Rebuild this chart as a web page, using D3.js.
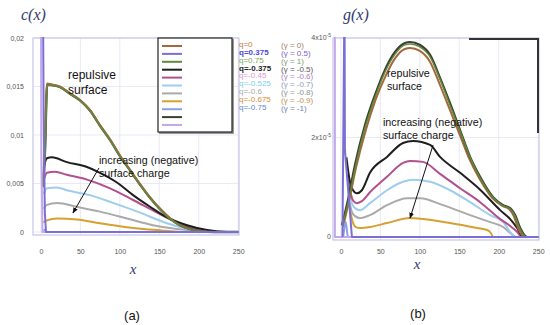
<!DOCTYPE html>
<html lang="en">
<head>
  <meta charset="utf-8">
  <title>c(x) and g(x)</title>
  <script src="https://d3js.org/d3.v7.min.js"></script>
  <style>
    body { margin: 0; background: #fff; }
    svg { display: block; }
    .tick text { font-family: "Liberation Sans", Arial, sans-serif; font-size: 7px; fill: #555; }
    .title { font-family: "Liberation Serif", "DejaVu Serif", serif; font-style: italic; fill: #2e3a6e; }
    .note { font-family: "Liberation Sans", Arial, sans-serif; fill: #111; }
    .panel { font-family: "Liberation Sans", Arial, sans-serif; font-size: 13px; fill: #111; }
    .leg { font-family: "Liberation Sans", Arial, sans-serif; font-size: 8px; }
  </style>
</head>
<body>
<div id="chart"></div>
<script>
  // ticks
  var xTicks = [0, 50, 100, 150, 200, 250];
  var cTicks = [0, 0.005, 0.01, 0.015, 0.02];
  var cTickLabels = ["0", "0,005", "0,01", "0,015", "0,02"];
  var gTicks = [0, 2, 4];            // in units of 1e-5
  var gTickLabels = ["0", "2x10", "4x10"];

  // legend
  var qLabels = ["q=0", "q=0.375", "q=0.75", "q=-0.375", "q=-0.45", "q=-0.525", "q=-0.6", "q=-0.675", "q=-0.75"];
  var gammaLabels = ["(\u03b3 = 0)", "(\u03b3 = 0.5)", "(\u03b3 = 1)", "(\u03b3 = -0.5)", "(\u03b3 = -0.6)",
                     "(\u03b3 = -0.7)", "(\u03b3 = -0.8)", "(\u03b3 = -0.9)", "(\u03b3 = -1)"];
  var seriesColors = ["#a5683c", "#7a6fd6", "#5f8a3c", "#1e1e1e", "#b2508e", "#9fcdee",
                      "#aaaaaa", "#d6a032", "#8e9ee6", "#3c4030", "#c4a8ec"];
  var qColors = ["#c07a3a", "#4a4ad8", "#78a855", "#222", "#e890e0", "#7ad0ec", "#a8a8a8", "#e08a30", "#5a88e0"];
  var gammaColors = ["#a08060", "#8060c0", "#80a070", "#555", "#b080c0", "#8aa0b8", "#909090", "#c09050", "#7080c0"];

  // c(x) series  [x, c]
  var cQ0 = [[2.5,0.0048],[5,0.0085],[7.6,0.0153],[14,0.0152],[24,0.015],[37,0.0143],[49.5,0.0136],[62,0.0126],[75,0.011],[88,0.0095],[100,0.0079],[113,0.0064],[126,0.0049],[138,0.0036],[151,0.0024],[164,0.0014],[176,0.0007],[189,0.0003],[202,0.0001],[221,0],[250,0]];
  var cQ075 = [[3,0.0046],[5.5,0.0083],[8.2,0.0151],[14,0.0151],[24,0.0149],[37,0.0142],[50,0.0135],[62,0.0125],[75,0.0109],[88,0.0094],[100,0.0078],[113,0.0063],[126,0.0048],[138,0.0035],[151,0.0023],[164,0.0013],[176,0.0007],[189,0.0003],[202,0.0001],[220,0],[250,0]];
  var cDark = [[2.8,0.0047],[5.2,0.0084],[7.9,0.0152],[14,0.01515],[24,0.01495],[37,0.01425],[50,0.01355],[62,0.01255],[75,0.01095],[88,0.00945],[100,0.00785],[113,0.00635],[126,0.00485],[138,0.00355],[151,0.00235],[164,0.00135],[176,0.0007],[189,0.0003],[202,0.0001],[220,0],[250,0]];
  var cQm0375 = [[3.5,0.0066],[7.6,0.0076],[14,0.0077],[33,0.0072],[58.4,0.0067],[74.9,0.0061],[96.4,0.0051],[116.8,0.0038],[138.3,0.0026],[159.9,0.0015],[185.3,0.0007],[210.7,0.0002],[236,0],[250,0]];
  var cQm045 = [[3.5,0.0053],[7.6,0.0061],[17.8,0.0062],[33,0.0059],[58.4,0.0054],[87.6,0.0045],[116.8,0.0033],[147.2,0.002],[180.2,0.0007],[218.3,0],[250,0]];
  var cQm0525 = [[3.5,0.0039],[7.6,0.0045],[20.3,0.0046],[33,0.0043],[62.2,0.0038],[91.4,0.003],[125.6,0.002],[159.9,0.0009],[201.8,0.0001],[233.5,0],[250,0]];
  var cQm06 = [[3.5,0.0024],[7.6,0.0028],[20.3,0.003],[45.7,0.0026],[74.9,0.0021],[109.1,0.0014],[142.1,0.0007],[185.3,0.0002],[218.3,0],[250,0]];
  var cQm0675 = [[3,0.001],[7.6,0.0012],[20.3,0.0014],[45.7,0.0013],[74.9,0.0009],[109.1,0.0005],[147.2,0.0002],[185.3,0],[250,0]];
  var cQ0375 = [[2.5,0.026],[3.5,0.012],[5,0.002],[6.5,0],[250,0]];
  var cQm075 = [[4,0.0003],[6,0],[250,0]];
  var cLav = [[0,0.026],[0.6,0.008],[2,0],[250,0]];

  // g(x) series  [x, g / 1e-5]
  var gQ0 = [[2.5,0.2],[10,0.7],[19,1.38],[32,2.17],[44,2.76],[57,3.25],[69,3.6],[81,3.78],[88,3.8],[100,3.74],[113,3.52],[125,3.08],[137,2.6],[150,2.08],[163,1.56],[176,1.16],[192,0.78],[205,0.62],[213,0.56],[219,0.42],[225,0.16],[233,0],[250,0]];
  var gQ075 = [[1.8,0.22],[9.5,0.72],[18.5,1.42],[31,2.22],[43.5,2.82],[56,3.32],[69,3.68],[81,3.86],[88,3.88],[100,3.82],[113,3.62],[125.6,3.17],[138,2.66],[151,2.13],[163.7,1.6],[176,1.2],[192.5,0.8],[205,0.63],[214,0.57],[220.5,0.43],[226.8,0.17],[235,0],[250,0]];
  var gDark = [[1.3,0.24],[8.9,0.74],[17.8,1.45],[30.5,2.25],[43.1,2.85],[55.8,3.36],[68.5,3.72],[81.2,3.9],[87.6,3.92],[100.3,3.86],[113,3.66],[125.6,3.2],[138.3,2.69],[151,2.15],[163.7,1.61],[176.4,1.21],[192.9,0.8],[205.6,0.64],[214.5,0.58],[220.8,0.44],[227.2,0.18],[236,0],[250,0]];
  var gQm0375 = [[7,1.6],[11,1.15],[15,0.95],[20.3,0.88],[26.6,0.94],[36.8,1.29],[58.4,1.61],[78.7,1.89],[91.4,1.93],[113,1.85],[125.6,1.61],[151,1.29],[176.4,0.95],[201.8,0.54],[214.5,0.36],[223.4,0.18],[231,0],[250,0]];
  var gQm045 = [[8,1.25],[12,0.9],[16,0.72],[20.3,0.68],[26.6,0.72],[36.8,0.9],[58.4,1.21],[78.7,1.49],[87.6,1.53],[104.1,1.51],[125.6,1.27],[151,0.98],[176.4,0.7],[201.8,0.36],[214.5,0.22],[223.4,0.1],[229,0],[250,0]];
  var gQm0525 = [[9,1.0],[13,0.72],[17.8,0.58],[24.1,0.54],[36.8,0.68],[58.4,0.94],[78.7,1.11],[91.4,1.15],[113,1.11],[138.3,0.94],[163.7,0.7],[189.1,0.44],[205.6,0.3],[214.5,0.1],[222,0],[250,0]];
  var gQm06 = [[10,0.8],[14,0.5],[18,0.42],[24.1,0.38],[36.8,0.44],[58.4,0.64],[83.8,0.78],[100.3,0.78],[129.4,0.64],[163.7,0.44],[189.1,0.3],[205.6,0.2],[214.5,0.08],[222,0],[250,0]];
  var gQm0675 = [[11,0.6],[15,0.3],[19,0.2],[24.1,0.18],[36.8,0.2],[58.4,0.28],[87.6,0.38],[104.1,0.36],[138.3,0.28],[172.6,0.18],[185.3,0.14],[190,0.08],[193,0],[250,0]];
  var gQ0375 = [[2,0],[4.6,5],[5.1,1.75],[14,0],[250,0]];
  var gQm075 = [[3,0],[6,0.3],[9,0],[250,0]];
  var gLav = [[-7.6,5],[-7.6,0],[250,0]];

  var width = 550, height = 325;
  var svg = d3.select("#chart").append("svg")
      .attr("width", width)
      .attr("height", height);

  var defs = svg.append("defs");
  defs.append("marker")
      .attr("id", "arrow")
      .attr("viewBox", "0 0 10 10")
      .attr("refX", 9).attr("refY", 5)
      .attr("markerWidth", 6).attr("markerHeight", 6)
      .attr("orient", "auto")
    .append("path")
      .attr("d", "M0,1 L10,5 L0,9 Z")
      .attr("fill", "#111");

  function drawPanel(p) {
    var x = d3.scaleLinear().domain([-10, 251]).range([p.left, p.left + 206]);
    var y = d3.scaleLinear().domain(p.yDomain).range([p.yBottom, 38]);
    var g = svg.append("g");

    defs.append("clipPath").attr("id", p.id)
      .append("rect")
        .attr("x", p.left).attr("y", 37)
        .attr("width", 206).attr("height", p.frameBottom - 37);

    // grid
    g.append("g").selectAll("line").data(xTicks).enter().append("line")
      .attr("x1", function(d) { return x(d); }).attr("x2", function(d) { return x(d); })
      .attr("y1", 38).attr("y2", p.frameBottom)
      .attr("stroke", "#e4e3f3").attr("stroke-width", 0.8);
    g.append("g").selectAll("line").data(p.yTicks).enter().append("line")
      .attr("x1", p.left).attr("x2", p.left + 206)
      .attr("y1", function(d) { return y(d); }).attr("y2", function(d) { return y(d); })
      .attr("stroke", "#e4e3f3").attr("stroke-width", 0.8);

    g.append("rect")
      .attr("x", p.left).attr("y", 38)
      .attr("width", 206).attr("height", p.frameBottom - 38)
      .attr("fill", "none").attr("stroke", "#c9c6e6").attr("stroke-width", 1.2);

    // x axis
    var xa = g.append("g")
      .attr("transform", "translate(0,246)")
      .call(d3.axisBottom(x).tickValues(xTicks).tickSize(0).tickFormat(d3.format("d")));
    xa.select(".domain").remove();

    // y axis
    if (p.yLabels) {
      var ya = g.append("g")
        .attr("transform", "translate(" + (p.left - 6) + ",0)")
        .call(d3.axisLeft(y).tickValues(p.yTicks).tickSize(0)
          .tickFormat(function(d, i) { return p.yLabels[i]; }));
      ya.select(".domain").remove();
      ya.selectAll(".tick text").attr("dy", "0.3em");
    }

    var line = d3.line()
      .x(function(d) { return x(d[0]); })
      .y(function(d) { return y(d[1]); })
      .curve(d3.curveMonotoneX);
    var straight = d3.line()
      .x(function(d) { return x(d[0]); })
      .y(function(d) { return y(d[1]); });

    var plot = g.append("g").attr("clip-path", "url(#" + p.id + ")");
    p.series.forEach(function(s) {
      plot.append("path")
        .attr("d", s.spike ? straight(s.pts) : line(s.pts))
        .attr("fill", "none")
        .attr("stroke", seriesColors[s.c])
        .attr("stroke-width", s.w || 2)
        .attr("stroke-linejoin", "round");
    });

    // arrow
    g.append("line")
      .attr("x1", x(p.arrow[0][0])).attr("y1", y(p.arrow[0][1]))
      .attr("x2", x(p.arrow[1][0])).attr("y2", y(p.arrow[1][1]))
      .attr("stroke", "#111").attr("stroke-width", 1)
      .attr("marker-end", "url(#arrow)");

    return { x: x, y: y, g: g };
  }

  var left = drawPanel({
    id: "clipA", left: 33, yBottom: 232, frameBottom: 235,
    yDomain: [0, 0.02], yTicks: cTicks, yLabels: cTickLabels,
    series: [
      { pts: cQm0675, c: 7 }, { pts: cQm06, c: 6 }, { pts: cQm0525, c: 5 },
      { pts: cQm045, c: 4 }, { pts: cQm0375, c: 3 },
      { pts: cDark, c: 9, w: 2.4 }, { pts: cQ0, c: 0, w: 2 }, { pts: cQ075, c: 2, w: 1.4 },
      { pts: cQm075, c: 8 }, { pts: cLav, c: 10, spike: true }, { pts: cQ0375, c: 1, spike: true }
    ],
    arrow: [[73.6, 0.0066], [40.6, 0.00196]]
  });

  var right = drawPanel({
    id: "clipB", left: 333, yBottom: 237, frameBottom: 240,
    yDomain: [0, 4], yTicks: gTicks, yLabels: null,
    series: [
      { pts: gQm0675, c: 7 }, { pts: gQm06, c: 6 }, { pts: gQm0525, c: 5 },
      { pts: gQm045, c: 4 }, { pts: gQm0375, c: 3 },
      { pts: gQ0, c: 0, w: 2 }, { pts: gDark, c: 9, w: 2.2 }, { pts: gQ075, c: 2, w: 1.4 },
      { pts: gQm075, c: 8 }, { pts: gLav, c: 10, spike: true }, { pts: gQ0375, c: 1, spike: true }
    ],
    arrow: [[116.8, 1.85], [87.6, 0.38]]
  });

  // right y tick labels with superscript
  var gl = right.g.append("g").attr("class", "tick");
  gTicks.forEach(function(d, i) {
    var t = gl.append("text")
      .attr("x", 331).attr("y", right.y(d))
      .attr("dy", "0.3em")
      .attr("text-anchor", "end")
      .text(gTickLabels[i]);
    if (i > 0) {
      t.append("tspan").attr("dy", "-0.6em").attr("font-size", "5px").text("-5");
    }
  });

  // partial box in right panel
  svg.append("path")
    .attr("d", "M469,39 L538,39 L538,133")
    .attr("fill", "none").attr("stroke", "#333").attr("stroke-width", 2);

  // legend box
  var lg = svg.append("g");
  lg.append("rect")
    .attr("x", 159).attr("y", 39).attr("width", 75).attr("height", 95)
    .attr("fill", "#999");
  lg.append("rect")
    .attr("x", 158).attr("y", 38).attr("width", 74).attr("height", 94)
    .attr("fill", "#fff").attr("stroke", "#222").attr("stroke-width", 1.2);
  lg.selectAll("line.key").data(seriesColors).enter().append("line")
    .attr("class", "key")
    .attr("x1", 162).attr("x2", 182)
    .attr("y1", function(d, i) { return 46 + i * 7.9; })
    .attr("y2", function(d, i) { return 46 + i * 7.9; })
    .attr("stroke", function(d) { return d; })
    .attr("stroke-width", 2);

  lg.selectAll("text.q").data(qLabels).enter().append("text")
    .attr("class", "leg q")
    .attr("x", 239)
    .attr("y", function(d, i) { return 44 + i * 7.9; })
    .attr("dy", "0.35em")
    .attr("fill", function(d, i) { return qColors[i]; })
    .attr("font-weight", function(d, i) { return (i === 1 || i === 3) ? "bold" : "normal"; })
    .text(function(d) { return d; });

  lg.selectAll("text.gm").data(gammaLabels).enter().append("text")
    .attr("class", "leg gm")
    .attr("x", 281)
    .attr("y", function(d, i) { return 45 + i * 7.9; })
    .attr("dy", "0.35em")
    .attr("fill", function(d, i) { return gammaColors[i]; })
    .text(function(d) { return d; });

  // titles
  svg.append("text").attr("class", "title").attr("x", 21).attr("y", 20)
    .attr("font-size", "16px").text("c(x)");
  svg.append("text").attr("class", "title").attr("x", 343).attr("y", 20)
    .attr("font-size", "16px").text("g(x)");
  svg.append("text").attr("class", "title").attr("x", 133).attr("y", 274)
    .attr("text-anchor", "middle").attr("font-size", "15px").text("x");
  svg.append("text").attr("class", "title").attr("x", 417).attr("y", 269)
    .attr("text-anchor", "middle").attr("font-size", "15px").text("x");

  svg.append("text").attr("class", "panel").attr("x", 132).attr("y", 320)
    .attr("text-anchor", "middle").text("(a)");
  svg.append("text").attr("class", "panel").attr("x", 418).attr("y", 318)
    .attr("text-anchor", "middle").text("(b)");

  // annotations
  function note(x, y, size, lines) {
    lines.forEach(function(s, i) {
      svg.append("text").attr("class", "note")
        .attr("x", x).attr("y", y + i * size * 1.22)
        .attr("font-size", size + "px")
        .text(s);
    });
  }
  note(68, 79, 12, ["repulsive", "surface"]);
  note(99, 164, 10.7, ["increasing (negative)", "surface charge"]);
  note(387, 77, 10.7, ["repulsive", "surface"]);
  note(383, 126, 10.7, ["increasing (negative)", "surface charge"]);
</script>
</body>
</html>
